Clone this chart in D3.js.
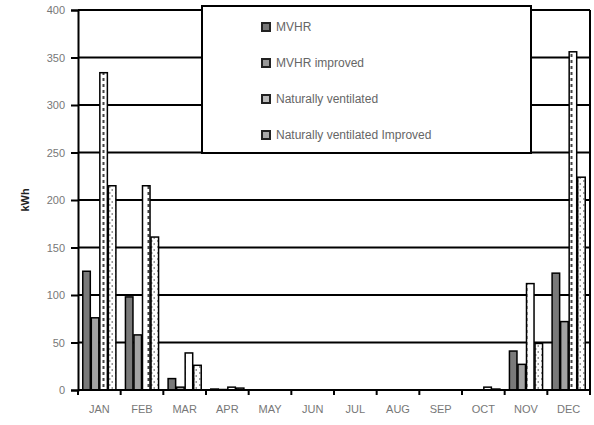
<!DOCTYPE html>
<html><head><meta charset="utf-8">
<script src="https://cdn.jsdelivr.net/npm/d3@7"></script>
<style>body{margin:0;background:#fff}svg{display:block}</style>
</head><body>
<svg id="c" width="594" height="425"></svg>
<script>
const months = ["JAN","FEB","MAR","APR","MAY","JUN","JUL","AUG","SEP","OCT","NOV","DEC"];
const seriesNames = ["MVHR","MVHR improved","Naturally ventilated","Naturally ventilated Improved"];
const mvhr        = [125, 98, 12, 1, 0, 0, 0, 0, 0, 0, 41, 123];
const mvhrImp     = [76, 58, 3, 0.5, 0, 0, 0, 0, 0, 0, 27, 72];
const natVent     = [334, 215, 39, 3, 0, 0, 0, 0, 0, 3, 112, 356];
const natVentImp  = [215, 161, 26, 2, 0, 0, 0, 0, 0, 1, 49, 224];
const yTicks = [0,50,100,150,200,250,300,350,400];

const series = [mvhr, mvhrImp, natVent, natVentImp];
const svg = d3.select("#c");
const L = 78, R = 590, T = 10, B = 390;
const FONT = "Liberation Sans, Arial, sans-serif";

const defs = svg.append("defs");
const p1 = defs.append("pattern").attr("id","pNV").attr("patternUnits","userSpaceOnUse")
  .attr("width",9).attr("height",6);
p1.append("rect").attr("width",9).attr("height",6).attr("fill","#fff");
p1.append("rect").attr("x",3.5).attr("y",0).attr("width",2).attr("height",3).attr("fill","#444");
const p2 = defs.append("pattern").attr("id","pNVI").attr("patternUnits","userSpaceOnUse")
  .attr("width",6).attr("height",6);
p2.append("rect").attr("width",6).attr("height",6).attr("fill","#fff");
p2.append("rect").attr("x",1).attr("y",0).attr("width",1.5).attr("height",2).attr("fill","#999");
p2.append("rect").attr("x",3.5).attr("y",3).attr("width",1.5).attr("height",2).attr("fill","#999");

const fills = ["#7a7a7a","#a3a3a3","url(#pNV)","url(#pNVI)"];

const x0 = d3.scaleBand().domain(months).range([L,R]).paddingInner(0.2).paddingOuter(0.1);
const x1 = d3.scaleBand().domain(d3.range(4)).range([0,x0.bandwidth()]);
const y = d3.scaleLinear().domain([0,400]).range([B,T]);

// gridlines
svg.append("g").selectAll("line").data(yTicks.filter(d=>d>0)).join("line")
  .attr("x1",L).attr("x2",R).attr("y1",d=>y(d)).attr("y2",d=>y(d))
  .attr("stroke","#000").attr("stroke-width",2);
// right border
svg.append("line").attr("x1",R).attr("x2",R).attr("y1",T).attr("y2",B)
  .attr("stroke","#000").attr("stroke-width",2);

// bars
const g = svg.append("g");
months.forEach((m,i)=>{
  series.forEach((s,j)=>{
    const v = s[i];
    if (v <= 0) return;
    g.append("rect")
      .attr("x", x0(m)+x1(j)+0.5)
      .attr("y", y(v))
      .attr("width", x1.bandwidth()-1)
      .attr("height", Math.max(0.5, y(0)-y(v)))
      .attr("fill", fills[j])
      .attr("stroke","#000").attr("stroke-width",1.5);
  });
});

// y axis
const yAxis = d3.axisLeft(y).tickValues(yTicks).tickSize(7).tickPadding(6);
const ya = svg.append("g").attr("transform",`translate(${L},0)`).call(yAxis);
ya.select(".domain").attr("stroke","#000").attr("stroke-width",2);
ya.selectAll(".tick line").attr("stroke","#000").attr("stroke-width",2);
ya.selectAll(".tick text").attr("fill","#777").attr("font-family",FONT).attr("font-size",11);

// x axis
const xa = svg.append("g").attr("transform",`translate(0,${B})`);
xa.append("line").attr("x1",L).attr("x2",R).attr("y1",0).attr("y2",0).attr("stroke","#000").attr("stroke-width",2);
xa.selectAll("line.tk").data(d3.range(13)).join("line").attr("class","tk")
  .attr("x1",i=>L+i*x0.step()).attr("x2",i=>L+i*x0.step()).attr("y1",0).attr("y2",5)
  .attr("stroke","#000").attr("stroke-width",2);
xa.selectAll("text").data(months).join("text")
  .attr("x",m=>L + months.indexOf(m)*x0.step() + x0.step()/2).attr("y",23)
  .attr("text-anchor","middle").attr("fill","#777")
  .attr("font-family",FONT).attr("font-size",11).text(d=>d);

// y label
svg.append("text").attr("transform","translate(29,200) rotate(-90)")
  .attr("text-anchor","middle").attr("font-family",FONT)
  .attr("font-size",11).attr("font-weight","bold").attr("fill","#222").text("kWh");

// legend
const lg = svg.append("g");
lg.append("rect").attr("x",202).attr("y",6).attr("width",329).attr("height",147)
  .attr("fill","#fff").attr("stroke","#000").attr("stroke-width",2);
const legY = [27,63,99,135];
seriesNames.forEach((n,j)=>{
  lg.append("rect").attr("x",262).attr("y",legY[j]-4).attr("width",8).attr("height",8)
    .attr("fill",["#777","#999","#bbb","#aaa"][j]).attr("stroke","#222").attr("stroke-width",2);
  lg.append("text").attr("x",276).attr("y",legY[j]+4).attr("fill","#666")
    .attr("font-family",FONT).attr("font-size",12).text(n);
});
</script>
</body></html>
